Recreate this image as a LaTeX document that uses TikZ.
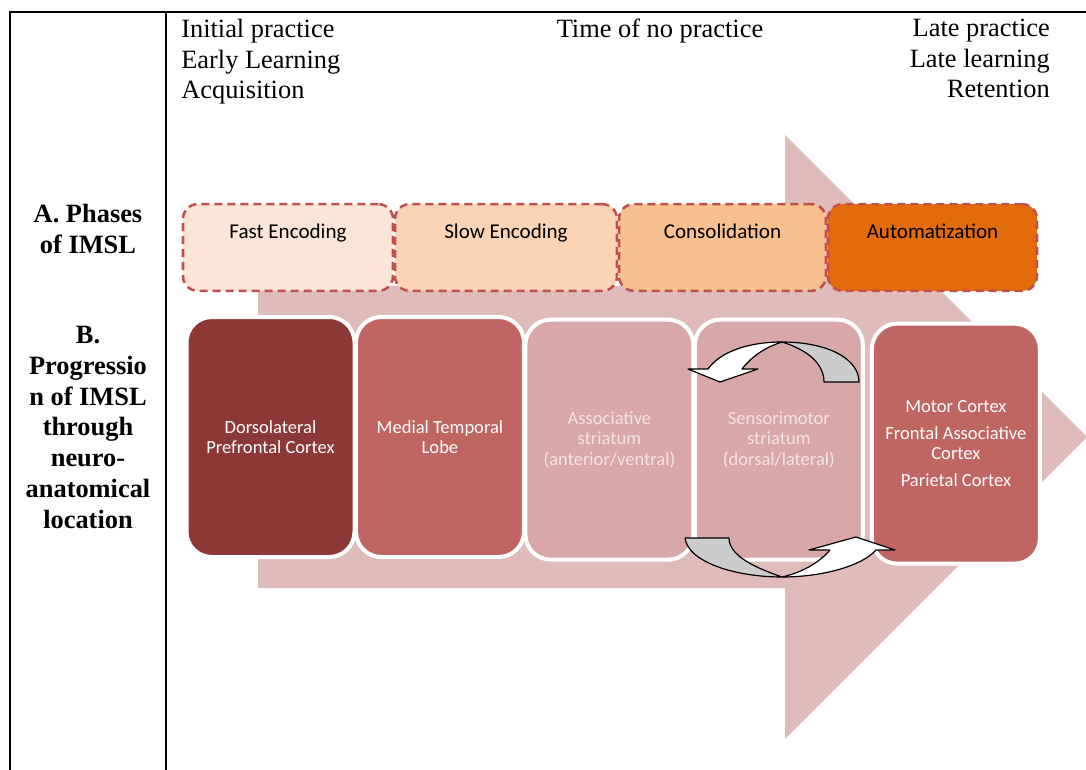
\documentclass[tikz,border=0pt]{standalone}
\usepackage{fontspec}
\usepackage{tikz}
\setmainfont{Liberation Serif}
\newfontfamily\boxfont{Carlito}
\usetikzlibrary{positioning}

\definecolor{bigarrow}{RGB}{223,187,186}
\definecolor{phaseline}{RGB}{192,80,77}
\definecolor{fastfill}{RGB}{251,229,214}
\definecolor{slowfill}{RGB}{250,212,180}
\definecolor{consfill}{RGB}{248,191,143}
\definecolor{autofill}{RGB}{227,108,10}
\definecolor{dlpfcfill}{RGB}{140,56,54}
\definecolor{cortexfill}{RGB}{191,101,98}
\definecolor{striatfill}{RGB}{216,168,168}
\definecolor{striattext}{RGB}{246,228,228}
\definecolor{loopgray}{RGB}{204,204,204}

\tikzset{
	tableline/.style={line width=1.5pt},
	heading/.style={font=\fontsize{19.8}{22.9}\selectfont, inner sep=0pt},
	rowlabel/.style={font=\fontsize{19.8}{23}\selectfont\bfseries, align=center, inner sep=0pt, anchor=north},
	phasebox/.style={draw=phaseline, dash pattern=on 6pt off 3.75pt, line width=1.9pt,
		rounded corners=11pt, inner sep=0pt, outer sep=0pt, text height=26pt, text depth=39pt,
		font=\boxfont\fontsize{15.8}{18}\selectfont},
	regionbox/.style={draw=white, line width=3pt, rounded corners=19pt, minimum width=126pt,
		minimum height=180pt, inner sep=0pt, outer sep=0pt, align=center, text=white,
		font=\boxfont\fontsize{13.9}{15.2}\selectfont},
	loop/.style={draw=black, line width=0.9pt, line join=round},
}

\begin{document}
\begin{tikzpicture}[x=0.75pt, y=-0.75pt]
	\useasboundingbox (0,0) rectangle (1086,770);

	% table rules
	\draw[tableline] (10,770) -- (10,12) -- (1086,12);
	\draw[tableline] (166,12) -- (166,770);

	\node[heading, anchor=north west, align=left] (early) at (181,19) {Initial practice\\Early Learning\\Acquisition};
	\node[heading, anchor=north] (pause) at (660,19) {Time of no practice};
	\node[heading, anchor=north east, align=right] (late) at (1050,19) {Late practice\\Late learning\\Retention};

	\node[rowlabel] (phaselabel) at (88,204) {A. Phases\\of IMSL};
	\node[rowlabel, font=\fontsize{19.8}{23.1}\selectfont\bfseries] (progresslabel) at (88,326)
		{B.\\Progressio\\n of IMSL\\through\\neuro-\\anatomical\\location};

	% big arrow behind everything
	\fill[bigarrow] (258,286) -- (785,286) -- (785,135) -- (1087,437) -- (785,739) -- (785,588) -- (258,588) -- cycle;

	\node[phasebox, fill=fastfill, minimum width=157.5pt] (fast) at (288,247.5) {Fast Encoding};
	\node[phasebox, fill=slowfill, minimum width=166.5pt, right=1.5pt of fast] (slow) {Slow Encoding};
	\node[phasebox, fill=consfill, minimum width=155.25pt, right=1.5pt of slow] (consol) {Consolidation};
	\node[phasebox, fill=autofill, minimum width=156.75pt, right=1.5pt of consol] (autom) {Automatization};

	\node[regionbox, fill=dlpfcfill] (dlpfc) at (270.5,437) {Dorsolateral\\Prefrontal Cortex};
	\node[regionbox, fill=cortexfill, right=1.1pt of dlpfc] (mtl) {Medial Temporal\\Lobe};
	\node[regionbox, fill=striatfill, text=striattext, right=1.1pt of mtl, yshift=-2pt] (assoc)
		{Associative\\striatum\\(anterior/ventral)};
	\node[regionbox, fill=striatfill, text=striattext, right=1.1pt of assoc] (senso)
		{Sensorimotor\\striatum\\(dorsal/lateral)};
	\node[regionbox, fill=cortexfill, right=6.75pt of senso, yshift=-3pt] (motor)
		{Motor Cortex\\[5pt]Frontal Associative\\Cortex\\[5pt]Parietal Cortex};

	% upper loop
	\filldraw[loop, fill=loopgray] (859,382) .. controls (859,358) and (826,342) .. (782,342)
		.. controls (808,350) and (824,364) .. (824,382) -- cycle;
	\filldraw[loop, fill=white] (782,342) .. controls (748,342) and (720,352) .. (708,369)
		-- (688,369) -- (720,382) -- (758,369) -- (742,369)
		.. controls (752,356) and (766,347) .. (782,342) -- cycle;

	% lower loop
	\filldraw[loop, fill=loopgray] (685,538) .. controls (688,562) and (735,577) .. (782,577)
		.. controls (756,568) and (729,556) .. (729,538) -- cycle;
	\filldraw[loop, fill=white] (782,577) .. controls (822,577) and (862,566) .. (876,550)
		-- (895,550) -- (856,537) -- (809,550) -- (830,550)
		.. controls (818,564) and (800,573) .. (782,577) -- cycle;
\end{tikzpicture}
\end{document}
